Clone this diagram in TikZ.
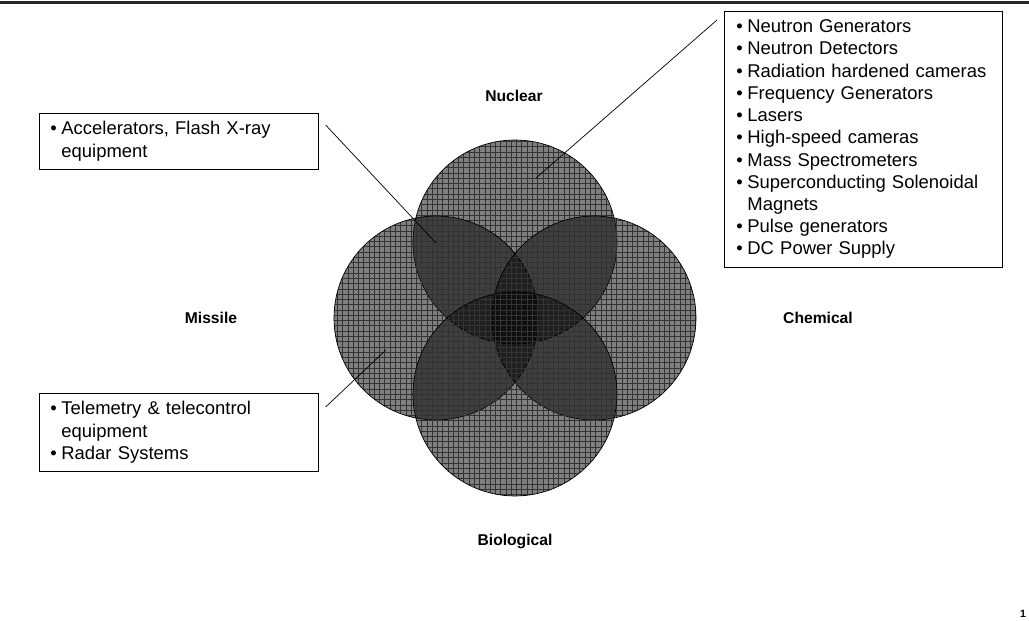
\documentclass[tikz,border=0pt]{standalone}
\usepackage{fontspec}
\setmainfont{Liberation Sans}
\usetikzlibrary{patterns}
\tikzstyle{region} = [circle, draw=black, thin, minimum size=4.08cm, inner sep=0pt, preaction={fill=black, fill opacity=0.5}, pattern=grid, pattern color=black!80]
\tikzstyle{setname} = [font=\fontsize{8.9pt}{10pt}\selectfont\bfseries]
\tikzstyle{listbox} = [rectangle, draw=black, thin, anchor=north west, align=left, inner ysep=0pt, font=\fontsize{10.5pt}{12.65pt}\selectfont]
\tikzstyle{pointer} = [draw, thin, black]
\newcommand{\itm}{\makebox[0.6em][l]{\textbullet}}
\newcommand{\ind}{\hspace*{0.6em}}

\begin{document}
\begin{tikzpicture}[x=0.02cm, y=-0.02cm]
		\useasboundingbox (0,0) rectangle (1029,621);
		\draw[line width=0.05cm, black!85] (0,2.5) -- (1029,2.5);
		% Place circles
		\node [region] (nuclear) at (515,242) {};
		\node [region] (missile) at (436,318) {};
		\node [region] (chemical) at (594,318) {};
		\node [region] (biological) at (515,394) {};
		% Place names
		\node [setname] (nuclearname) at (514,96) {Nuclear};
		\node [setname] (missilename) at (211,318) {Missile};
		\node [setname] (chemicalname) at (818,318) {Chemical};
		\node [setname] (biologicalname) at (515,541) {Biological};
		% Place lists
		\node [listbox, text width=5.08cm, inner xsep=0.24cm, minimum height=5.12cm] (nuclearlist) at (724,11) {\itm Neutron Generators\\ \itm Neutron Detectors\\ \itm Radiation hardened cameras\\ \itm Frequency Generators\\ \itm Lasers\\ \itm High-speed cameras\\ \itm Mass Spectrometers\\ \itm Superconducting Solenoidal\\ \ind Magnets\\ \itm Pulse generators\\ \itm DC Power Supply};
		\node [listbox, text width=5.14cm, inner xsep=0.22cm, minimum height=1.12cm] (accellist) at (39,113) {\itm Accelerators, Flash X-ray\\ \ind equipment};
		\node [listbox, text width=5.14cm, inner xsep=0.22cm, minimum height=1.56cm] (telelist) at (39,393) {\itm Telemetry \& telecontrol\\ \ind equipment\\ \itm Radar Systems};
		\coordinate (nuclearpt) at (536,178);
		\coordinate (overlappt) at (436,243);
		\coordinate (missilept) at (386,350);
		% Draw pointers
		\path [pointer] ([shift={(-0.14cm,-0.18cm)}]nuclearlist.north west) -- (nuclearpt);
		\path [pointer] ([shift={(0.14cm,-0.24cm)}]accellist.north east) -- (overlappt);
		\path [pointer] ([shift={(0.14cm,-0.28cm)}]telelist.north east) -- (missilept);
		\node [font=\fontsize{6pt}{7pt}\selectfont\bfseries] (pagenum) at (1023,614) {1};
	\end{tikzpicture}
\end{document}
